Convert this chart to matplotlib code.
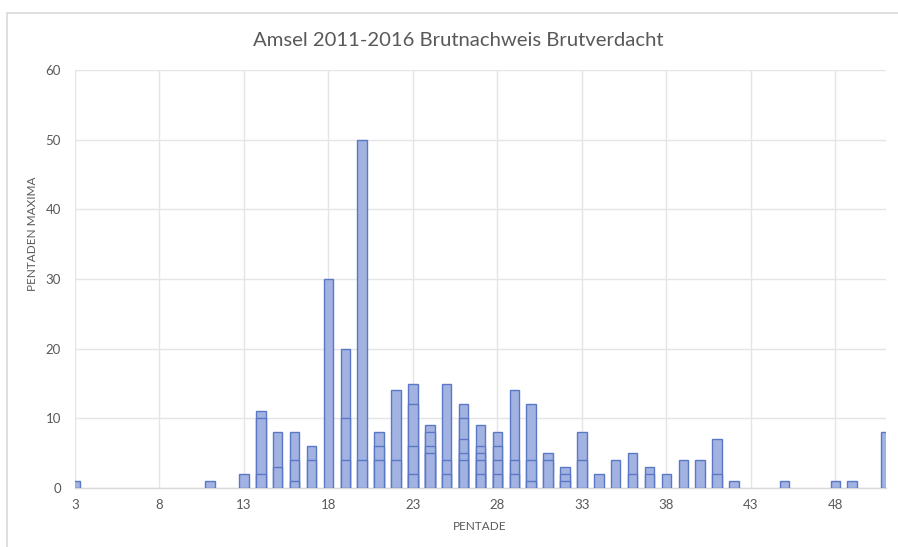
import matplotlib
matplotlib.use("Agg")
import matplotlib.pyplot as plt
from matplotlib.patches import Rectangle
import numpy as np

plt.rcParams['font.family'] = ['Lato', 'DejaVu Sans']

title = "Amsel 2011-2016 Brutnachweis Brutverdacht"
x_label = "PENTADE"
y_label = "PENTADEN MAXIMA"

# Pentades 3..51
pentades = list(range(3, 52))

# Overlapping bar levels (each pentade: tallest first, then lower values drawn on top)
stufe_1 = [1, 0, 0, 0, 0, 0, 0, 0, 1, 0, 2, 11, 8, 8, 6, 30, 20, 50, 8, 14,
           15, 9, 15, 12, 9, 8, 14, 12, 5, 3, 8, 2, 4, 5, 3, 2, 4, 4, 7, 1,
           0, 0, 1, 0, 0, 1, 1, 0, 8]
stufe_2 = [0, 0, 0, 0, 0, 0, 0, 0, 0, 0, 0, 10, 3, 4, 4, 0, 10, 4, 6, 4,
           12, 8, 4, 10, 6, 6, 4, 4, 4, 2, 4, 0, 0, 2, 2, 0, 0, 0, 2, 0,
           0, 0, 0, 0, 0, 0, 0, 0, 0]
stufe_3 = [0, 0, 0, 0, 0, 0, 0, 0, 0, 0, 0, 2, 0, 1, 0, 0, 4, 0, 4, 0,
           6, 6, 2, 7, 5, 4, 2, 1, 0, 1, 0, 0, 0, 0, 0, 0, 0, 0, 0, 0,
           0, 0, 0, 0, 0, 0, 0, 0, 0]
stufe_4 = [0, 0, 0, 0, 0, 0, 0, 0, 0, 0, 0, 0, 0, 0, 0, 0, 0, 0, 0, 0,
           2, 5, 0, 5, 4, 2, 0, 0, 0, 0, 0, 0, 0, 0, 0, 0, 0, 0, 0, 0,
           0, 0, 0, 0, 0, 0, 0, 0, 0]
stufe_5 = [0, 0, 0, 0, 0, 0, 0, 0, 0, 0, 0, 0, 0, 0, 0, 0, 0, 0, 0, 0,
           0, 0, 0, 4, 2, 0, 0, 0, 0, 0, 0, 0, 0, 0, 0, 0, 0, 0, 0, 0,
           0, 0, 0, 0, 0, 0, 0, 0, 0]

x_ticks = [3, 8, 13, 18, 23, 28, 33, 38, 43, 48]
y_ticks = [0, 10, 20, 30, 40, 50, 60]

fill = '#A2B3E2'
edge = '#5A78C6'
grey = '#595959'
gridc = '#E5E5E5'

fig = plt.figure(figsize=(8.98, 5.47), dpi=100)
ax = fig.add_axes([75/898, 59/547, (886-75)/898, (488-70)/547])

for i, layer in enumerate([stufe_1, stufe_2, stufe_3, stufe_4, stufe_5]):
    xs = [p for p, v in zip(pentades, layer) if v > 0]
    vs = [v for v in layer if v > 0]
    ax.bar(xs, vs, width=0.56, color=fill, edgecolor=edge, linewidth=1.0,
           zorder=3 + i)

ax.set_xlim(3, 51)
ax.set_ylim(0, 60)
ax.set_xticks(x_ticks)
ax.set_yticks(y_ticks)
ax.tick_params(axis='both', length=0, labelsize=9.5, labelcolor=grey)
ax.tick_params(axis='y', pad=10)
ax.tick_params(axis='x', pad=8)
ax.grid(True, color=gridc, linewidth=1.0, zorder=0)
ax.set_axisbelow(True)
for s in ['top', 'right', 'left']:
    ax.spines[s].set_visible(False)
ax.spines['bottom'].set_color('#D9D9D9')
ax.spines['bottom'].set_linewidth(1.0)

fig.text(458/898, 1 - 40/547, title, ha='center', va='center',
         fontsize=14.6, color=grey)
fig.text(480/898, 1 - 527/547, x_label, ha='center', va='center',
         fontsize=8.5, color=grey)
fig.text(32/898, 1 - 234/547, y_label, ha='center', va='center',
         rotation=90, fontsize=8.5, color=grey)

fig.patches.append(Rectangle((7/898, -0.1), 1.2, 1.1 - 13/547,
                             transform=fig.transFigure, facecolor='none',
                             edgecolor='#D9D9D9', linewidth=1.2, zorder=0))

fig.savefig('out.png', dpi=100)
